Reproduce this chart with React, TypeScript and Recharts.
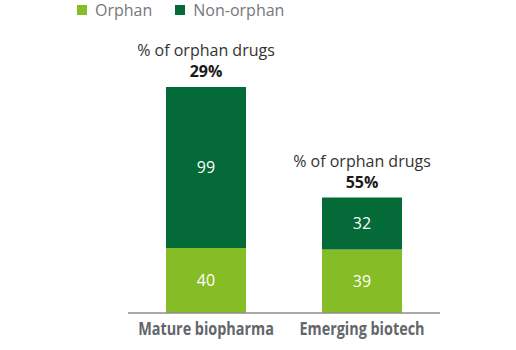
import { Bar, BarChart, LabelList, XAxis, YAxis } from "recharts";

const categories = ["Mature biopharma", "Emerging biotech"];
const orphan = [40, 39];
const nonOrphan = [99, 32];

const LIGHT_GREEN = "#86bc25";
const DARK_GREEN = "#046a38";
const FONT = "'Open Sans', sans-serif";

const data = categories.map((name, i) => ({
  name,
  orphan: orphan[i],
  nonOrphan: nonOrphan[i],
  share: Math.round((orphan[i] / (orphan[i] + nonOrphan[i])) * 100)
}));

function ChartLegend() {
  const items = [
    { label: "Orphan", color: LIGHT_GREEN },
    { label: "Non-orphan", color: DARK_GREEN }
  ];
  return (
    <div
      style={{
        position: "absolute",
        top: 0,
        left: 77,
        display: "flex",
        gap: 23,
        fontFamily: FONT,
        fontSize: 16,
        lineHeight: "20px",
        color: "#75787b"
      }}
    >
      {items.map((item) => (
        <div key={item.label} style={{ display: "flex", alignItems: "center", gap: 8 }}>
          <span style={{ width: 10, height: 10, background: item.color, display: "inline-block" }} />
          <span>{item.label}</span>
        </div>
      ))}
    </div>
  );
}

// condensed bold look, squeezed horizontally around the tick
function CategoryTick(props: any) {
  const { x, y, payload } = props;
  return (
    <g transform={`translate(${x},${y}) scale(0.8,1)`}>
      <text
        x={0}
        y={0}
        dy={14}
        textAnchor="middle"
        fontFamily={FONT}
        fontSize={18}
        fontWeight={700}
        fill="#63666a"
      >
        {payload.value}
      </text>
    </g>
  );
}

function TopLabel(props: any) {
  const { x, y, width, index } = props;
  const cx = x + width / 2;
  return (
    <g fontFamily={FONT}>
      <text x={cx} y={y - 31} textAnchor="middle" fontSize={16} fill="#333">
        % of orphan drugs
      </text>
      <text x={cx} y={y - 10} textAnchor="middle" fontSize={16} fontWeight={700} fill="#1a1a1a">
        {data[index].share}%
      </text>
    </g>
  );
}

export default function App() {
  return (
    <div style={{ position: "absolute", left: 0, top: 0, width: 516, height: 350, background: "#fff" }}>
      <ChartLegend />
      <BarChart
        width={516}
        height={350}
        data={data}
        margin={{ top: 87, right: 76, bottom: 7, left: 128 }}
        barSize={80}
      >
        <XAxis
          dataKey="name"
          height={30}
          axisLine={{ stroke: "#8c8c8c", strokeWidth: 1.5 }}
          tickLine={false}
          tick={<CategoryTick />}
        />
        <YAxis hide domain={[0, "dataMax"]} />
        <Bar dataKey="orphan" stackId="a" fill={LIGHT_GREEN} isAnimationActive={false}>
          <LabelList dataKey="orphan" position="center" fill="#fff" fontSize={16} fontFamily={FONT} />
        </Bar>
        <Bar dataKey="nonOrphan" stackId="a" fill={DARK_GREEN} isAnimationActive={false}>
          <LabelList dataKey="nonOrphan" position="center" fill="#fff" fontSize={16} fontFamily={FONT} />
          <LabelList dataKey="share" content={<TopLabel />} />
        </Bar>
      </BarChart>
    </div>
  );
}
